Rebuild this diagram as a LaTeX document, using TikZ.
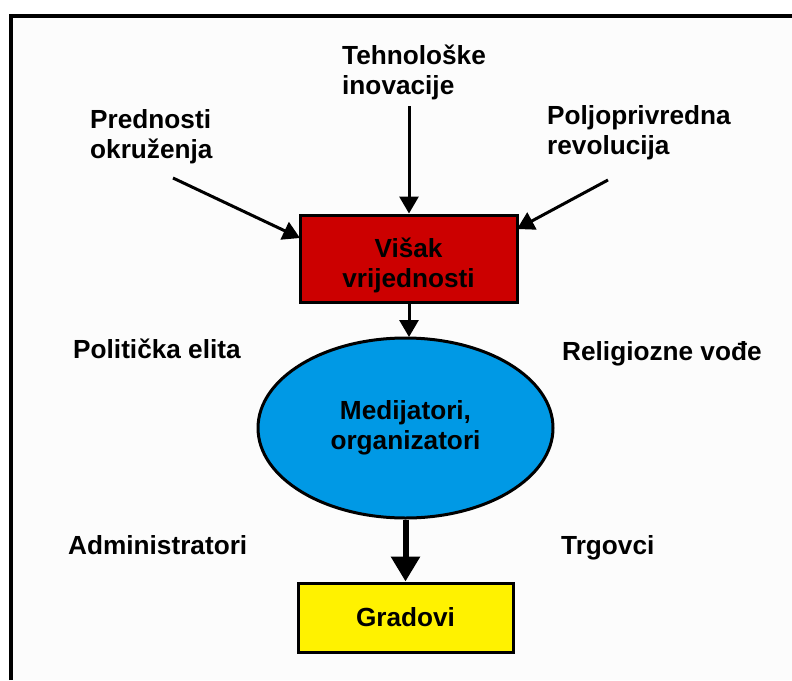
\documentclass[tikz,border=0pt]{standalone}
\usepackage{fontspec}
\setmainfont{Liberation Sans}
\usetikzlibrary{arrows.meta,shapes.geometric}
\definecolor{boxred}{RGB}{204,0,0}
\definecolor{ellblue}{RGB}{0,153,229}
\definecolor{boxyellow}{RGB}{255,242,0}
\definecolor{paper}{RGB}{252,252,252}
\tikzset{
  lbl/.style={font=\bfseries\fontsize{26.2}{29.5}\selectfont, inner sep=0pt},
  lblleft/.style={lbl, align=left, anchor=west},
  shapebox/.style={draw=black, line width=3pt, inner sep=0pt},
  thinarrow/.style={line width=3pt, -{Triangle[length=17pt,width=19pt]}},
  thickarrow/.style={line width=6pt, -{Triangle[length=25pt,width=28pt]}}
}
\begin{document}
\begin{tikzpicture}[x=1pt,y=-1pt]
\useasboundingbox (0,0) rectangle (792,680);
\fill[white] (0,0) rectangle (792,680);
\fill[paper] (10.5,15.5) rectangle (792,680);
\draw[line width=4pt] (10.5,680) -- (10.5,15.5) -- (792,15.5);

% top labels
\node[lblleft] (tech) at (342,72.5) {Tehnološke\\inovacije};
\node[lblleft] (pred) at (90,136.5) {Prednosti\\okruženja};
\node[lblleft] (polj) at (547,132.5) {Poljoprivredna\\revolucija};

% boxes
\node[shapebox, fill=boxred, minimum width=217pt, minimum height=87pt] (surplus) at (408.5,258.5) {};
\node[lbl, align=center] (surplustext) at (408.5,265.5) {Višak\\vrijednosti};
\node[shapebox, fill=ellblue, ellipse, minimum width=295pt, minimum height=180pt, align=center, font=\bfseries\fontsize{26.2}{29.5}\selectfont] (med) at (405.5,428) {Medijatori,\\organizatori};
\node[shapebox, fill=boxyellow, minimum width=215pt, minimum height=69pt, font=\bfseries\fontsize{26.2}{29.5}\selectfont] (grad) at (405.5,617.5) {Gradovi};

% side labels
\node[lbl, anchor=base west] (pol) at (73,358) {Politička elita};
\node[lbl, anchor=base west] (rel) at (562,360) {Religiozne vođe};
\node[lbl, anchor=base west] (adm) at (68,554) {Administratori};
\node[lbl, anchor=base west] (trg) at (561,554) {Trgovci};

% arrow start points
\coordinate (techend) at (409,106);
\coordinate (predend) at (173,178);
\coordinate (poljend) at (608,180);

\draw[thinarrow] (techend) -- (surplus.north -| techend);
\draw[thinarrow] (predend) -- (300,238);
\draw[thinarrow] (poljend) -- (517,229);
\draw[thinarrow] (surplus.south -| techend) -- (409,337);
\draw[thickarrow] (med.south) -- (grad.north);
\end{tikzpicture}
\end{document}
